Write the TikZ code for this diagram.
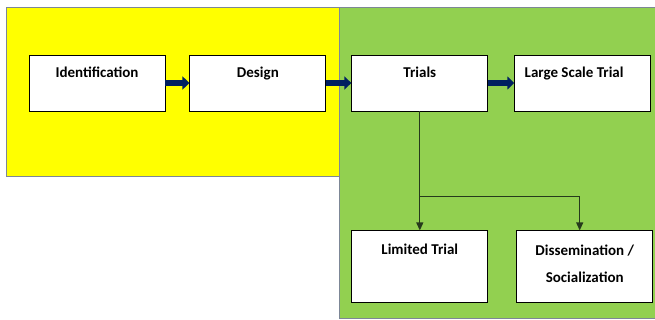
\documentclass[tikz,border=0pt]{standalone}
\usepackage{fontspec}
\setmainfont{Carlito}
\usepackage{xcolor}
\usetikzlibrary{arrows.meta, positioning}

\definecolor{panelyellow}{RGB}{255,255,0}
\definecolor{panelgreen}{RGB}{146,208,80}
\definecolor{panelline}{RGB}{125,135,150}
\definecolor{blockblue}{RGB}{0,32,96}
\definecolor{linkgreen}{RGB}{38,58,28}

\begin{document}
\begin{tikzpicture}[
    x=1pt, y=-1pt,
    node distance=24pt,
    panel/.style={draw=panelline, line width=0.8pt},
    stage/.style={rectangle, draw=black, fill=white, line width=0.9pt, minimum width=136pt,
        inner xsep=0pt, inner ysep=0pt, font=\bfseries\fontsize{15}{18}\selectfont},
    topline/.style={stage, minimum height=56pt, text height=23pt, text depth=33pt},
    lowline/.style={stage, minimum height=72pt, text height=24pt, text depth=48pt},
    block/.style={line width=6pt, draw=blockblue, -{Triangle[length=7pt,width=13pt]}},
    link/.style={line width=1.2pt, draw=linkgreen},
    arrow/.style={link, -{Triangle[length=8pt,width=7pt]}}
]
    \useasboundingbox (0,0) rectangle (655,320);
    \fill[white] (0,0) rectangle (655,320);

    % Panels
    \draw[panel, fill=panelyellow] (6,7) rectangle (340,176);
    \draw[panel, fill=panelgreen] (339,7) rectangle (655,318);

    \node[topline] (ident) at (97,83) {Identification};
    \node[topline, right=of ident] (design) {Design};
    \node[topline, right=25pt of design] (trials) {Trials};
    \node[topline, right=26pt of trials, text width=116pt, inner xsep=10pt, align=flush left] (large) {Large Scale Trial};
    \node[lowline, below=119pt of trials] (limited) {Limited Trial};
    \node[lowline, right=28pt of limited, align=center, text height=52pt, text depth=20pt]
        (dissem) {Dissemination /\\[9pt]Socialization};
    \coordinate[below=85pt of trials.south] (fork);

    % Arrows
    \draw[block] (ident) -- (design);
    \draw[block] (design) -- (trials);
    \draw[block] (trials) -- (large);
    \draw[link] (trials.south) -- (fork);
    \draw[arrow] (fork) -- (limited.north);
    \draw[arrow] (fork) -| ([xshift=-5pt]dissem.north);
\end{tikzpicture}
\end{document}
